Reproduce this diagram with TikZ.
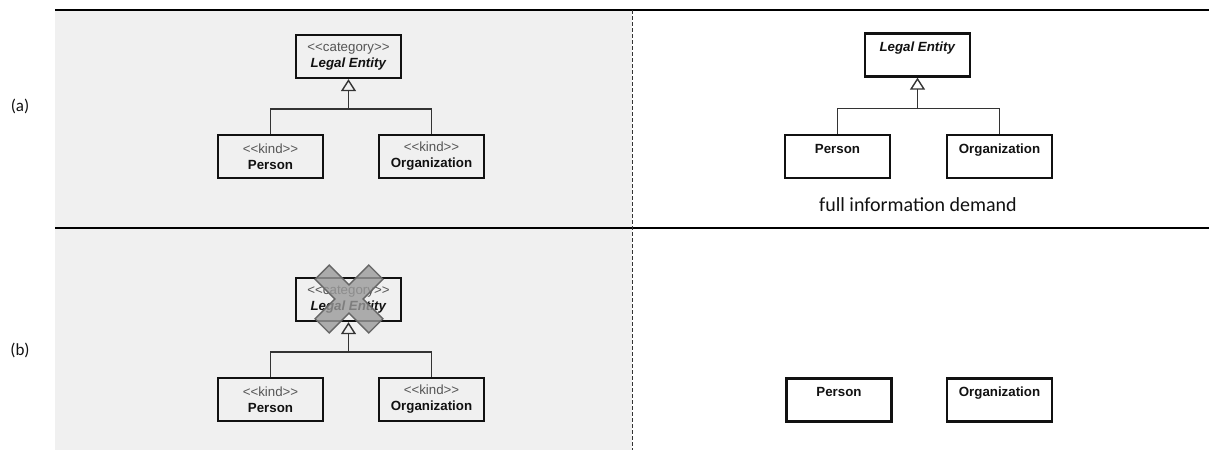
\documentclass[tikz,border=0pt]{standalone}
\usepackage{fontspec}
\usepackage{tikz}
\usetikzlibrary{arrows.meta,positioning}
\newfontfamily\umlfont{Liberation Sans}
\newfontfamily\notefont{Carlito}
\definecolor{panelbg}{HTML}{F0F0F0}
\definecolor{ink}{HTML}{111111}
\definecolor{stereo}{HTML}{555555}
\definecolor{wire}{HTML}{333333}
\definecolor{crossfill}{HTML}{9A9A9A}
\definecolor{crossline}{HTML}{666666}
\tikzset{
  umlbox/.style={draw=ink,line width=2.3pt,
                 minimum width=105pt,minimum height=43pt,
                 align=center,inner sep=0pt,text=ink,
                 font=\umlfont\fontsize{13.3}{16}\selectfont},
  wireline/.style={draw=wire,line width=1.4pt},
  genarr/.style={wireline,-{Triangle[open,length=12pt,width=15pt,line width=1.4pt]}},
  rowrule/.style={draw=black,line width=2.4pt},
  divider/.style={draw=wire,line width=1pt,dash pattern=on 4pt off 2pt},
  rowlabel/.style={font=\notefont\fontsize{17}{19}\selectfont,text=ink},
  note/.style={font=\notefont\fontsize{20}{22}\selectfont,text=ink}
}
\newcommand{\stereotype}[1]{\textcolor{stereo}{<{}<#1>{}>}}

\begin{document}
\begin{tikzpicture}[x=1pt,y=-1pt]
  \useasboundingbox (0,0) rectangle (1209,450);
  % grey left half
  \fill[panelbg] (55,10) rectangle (632,450);

  % left column: stereotyped models
  \foreach \row/\dy in {a/0,b/243}{
    \node[umlbox] (cat\row) at (348.5,56.5+\dy)
      {\stereotype{category}\\\textbf{\itshape Legal Entity}};
    \node[umlbox] (per\row) at (270.5,156.5+\dy)
      {\stereotype{kind}\\\textbf{Person}};
    \node[umlbox] (org\row) at (431.5,156.5+\dy)
      {\stereotype{kind}\\\textbf{Organization}};
    \coordinate[below=30pt of cat\row.south] (join\row);
    \draw[wireline] (per\row.north) |- (join\row) -| (org\row.north);
    \draw[genarr] (join\row) -- (cat\row.south);
  }

  % crossed-out category in row (b)
  \begin{scope}[shift={(349,299)},rotate=45]
    \filldraw[fill=crossfill,fill opacity=0.8,draw=crossline,line width=1.4pt]
      (10,10) -- (38,10) -- (38,-10) -- (10,-10) -- (10,-38) -- (-10,-38)
      -- (-10,-10) -- (-38,-10) -- (-38,10) -- (-10,10) -- (-10,38) -- (10,38) -- cycle;
  \end{scope}

  % right column: plain models
  \node[umlbox] (entr) at (917.5,55) {\textbf{\itshape Legal Entity}\\\mbox{}};
  \node[umlbox] (perr) at (837.5,156.5) {\textbf{Person}\\\mbox{}};
  \node[umlbox] (orgr) at (999.5,156.5) {\textbf{Organization}\\\mbox{}};
  \coordinate[below=31pt of entr.south] (joinr);
  \draw[wireline] (perr.north) |- (joinr) -| (orgr.north);
  \draw[genarr] (joinr) -- (entr.south);
  \node[note] (demand) at (918,205) {full information demand};

  \node[umlbox] (perrb) at (839,400) {\textbf{Person}\\\mbox{}};
  \node[umlbox] (orgrb) at (999.5,400) {\textbf{Organization}\\\mbox{}};

  % rules and labels
  \draw[rowrule] (55,10) -- (1209,10);
  \draw[rowrule] (55,228) -- (1209,228);
  \draw[divider] (632,10) -- (632,450);
  \node[rowlabel] (laba) at (20,106) {(a)};
  \node[rowlabel] (labb) at (20,350) {(b)};
\end{tikzpicture}
\end{document}
